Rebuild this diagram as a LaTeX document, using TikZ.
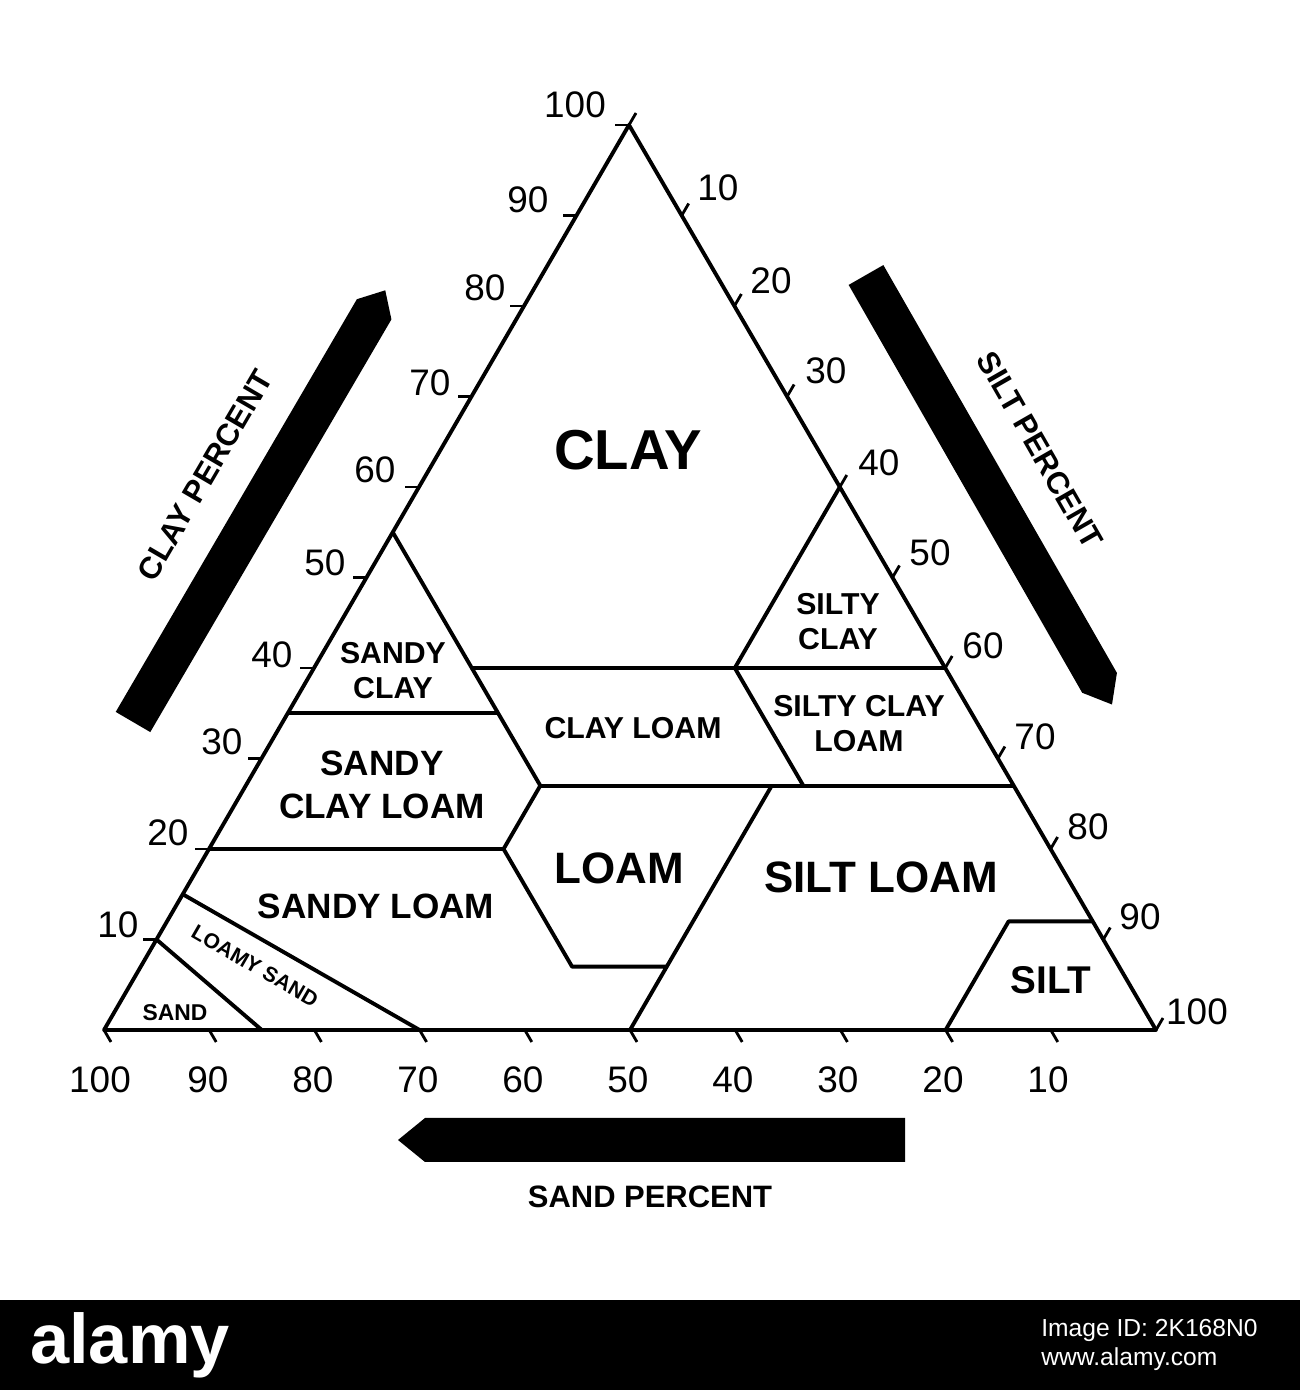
\documentclass[tikz,border=0pt]{standalone}
\usepackage{fontspec}
\setmainfont{Liberation Sans}
\newcommand\tp[2]{({1.04*(#1)+11.56*(100-(#1)-(#2))+6.29*(#2)},{360+9.05*(#2)})}
\begin{document}
\begin{tikzpicture}[x=0.01cm,y=0.01cm,
  edge/.style={line width=1.1pt,line join=round},
  tick/.style={line width=0.8pt},
  num/.style={font=\fontsize{10.5}{12}\selectfont},
  reg/.style={font=\fontsize{8.6}{10}\selectfont\bfseries,align=center},
  big/.style={font=\fontsize{12.5}{14}\selectfont\bfseries,align=center},
  axl/.style={font=\fontsize{8.8}{10}\selectfont\bfseries}]
\useasboundingbox (0,0) rectangle (1300,1390);
\fill[black] (0,0) rectangle (1300,90);
\node[white,font=\fontsize{20}{22}\selectfont\bfseries] (al) at (130,45) {alamy};
\node[white,font=\fontsize{7}{8}\selectfont,align=left,anchor=east] (aid) at (1270,45) {Image ID: 2K168N0\\www.alamy.com};
% triangle
\draw[edge] \tp{100}{0} -- \tp{0}{0} -- \tp{0}{100} -- cycle;
% boundaries
\draw[edge] \tp{45}{55} -- \tp{45}{40} -- \tp{20}{40} -- \tp{0}{60};
\draw[edge] \tp{20}{40} -- \tp{0}{40};
\draw[edge] \tp{65}{35} -- \tp{45}{35};
\draw[edge] \tp{45}{40} -- \tp{45}{35} -- \tp{45}{27} -- \tp{52}{20};
\draw[edge] \tp{20}{40} -- \tp{20}{27};
\draw[edge] \tp{45}{27} -- \tp{0}{27};
\draw[edge] \tp{80}{20} -- \tp{52}{20} -- \tp{52}{7} -- \tp{43}{7} -- \tp{50}{0};
\draw[edge] \tp{43}{7} -- \tp{23}{27};
\draw[edge] \tp{0}{12} -- \tp{8}{12} -- \tp{20}{0};
\draw[edge] \tp{85}{15} -- \tp{70}{0};
\draw[edge] \tp{90}{10} -- \tp{85}{0};
% ticks and numbers
\foreach \c in {10,20,...,100}{
  \draw[tick] \tp{100-\c}{\c} -- ++(-14,0);
  \draw[tick] \tp{0}{100-\c} -- ++(7,12);
  \draw[tick] \tp{\c}{0} -- ++(7,-12);
}
\draw[tick] \tp{0}{100} -- ++(7,12);
\foreach \v/\x/\y in {100/575/105,90/528/200,80/485/288,70/430/383,60/375/470,50/325/563,40/272/655,30/222/742,20/168/833,10/118/925}
  \node[num] (l\v) at (\x,1390-\y) {\v};
\foreach \v/\x/\y in {10/718/188,20/771/281,30/826/371,40/879/463,50/930/553,60/983/646,70/1035/737,80/1088/827,90/1140/917,100/1197/1012}
  \node[num] (r\v) at (\x,1390-\y) {\v};
\foreach \v/\x in {100/100,90/208,80/313,70/418,60/523,50/628,40/733,30/838,20/943,10/1048}
  \node[num] (b\v) at (\x,1390-1080) {\v};
% arrows
\begin{scope}[shift={(133,668)},rotate=59.7]
  \fill (0,-20) -- (478,-20) -- (500,0) -- (478,20) -- (0,20) -- cycle;
\end{scope}
\begin{scope}[shift={(866,1115)},rotate=-60.2]
  \fill (0,-20) -- (470,-20) -- (495,0) -- (470,20) -- (0,20) -- cycle;
\end{scope}
\fill (905,228) -- (425,228) -- (398,250) -- (425,272) -- (905,272) -- cycle;
\node[axl,rotate=59.7] (cp) at (205,915) {CLAY PERCENT};
\node[axl,rotate=-60.2] (sp) at (1040,940) {SILT PERCENT};
\node[axl] (sap) at (650,193) {SAND PERCENT};
% region labels
\node[font=\fontsize{16}{18}\selectfont\bfseries] (clay) at (628,1390-450) {CLAY};
\node[reg] (sc) at (838,1390-622) {SILTY\\CLAY};
\node[reg] (sac) at (393,1390-671) {SANDY\\CLAY};
\node[reg] (cl) at (633,1390-728) {CLAY LOAM};
\node[reg] (scl) at (859,1390-724) {SILTY CLAY\\LOAM};
\node[font=\fontsize{10}{12}\selectfont\bfseries,align=center] (sacl) at (382,1390-785) {SANDY\\CLAY LOAM};
\node[big] (loam) at (619,1390-868) {LOAM};
\node[big] (sl) at (881,1390-877) {SILT LOAM};
\node[font=\fontsize{10}{12}\selectfont\bfseries] (sal) at (376,1390-906) {SANDY LOAM};
\node[font=\fontsize{11}{12}\selectfont\bfseries] (silt) at (1051,1390-980) {SILT};
\node[font=\fontsize{6}{7}\selectfont\bfseries,rotate=-30] (ls) at (255,1390-966) {LOAMY SAND};
\node[font=\fontsize{6.5}{7}\selectfont\bfseries] (sand) at (175,1390-1013) {SAND};
\end{tikzpicture}
\end{document}
